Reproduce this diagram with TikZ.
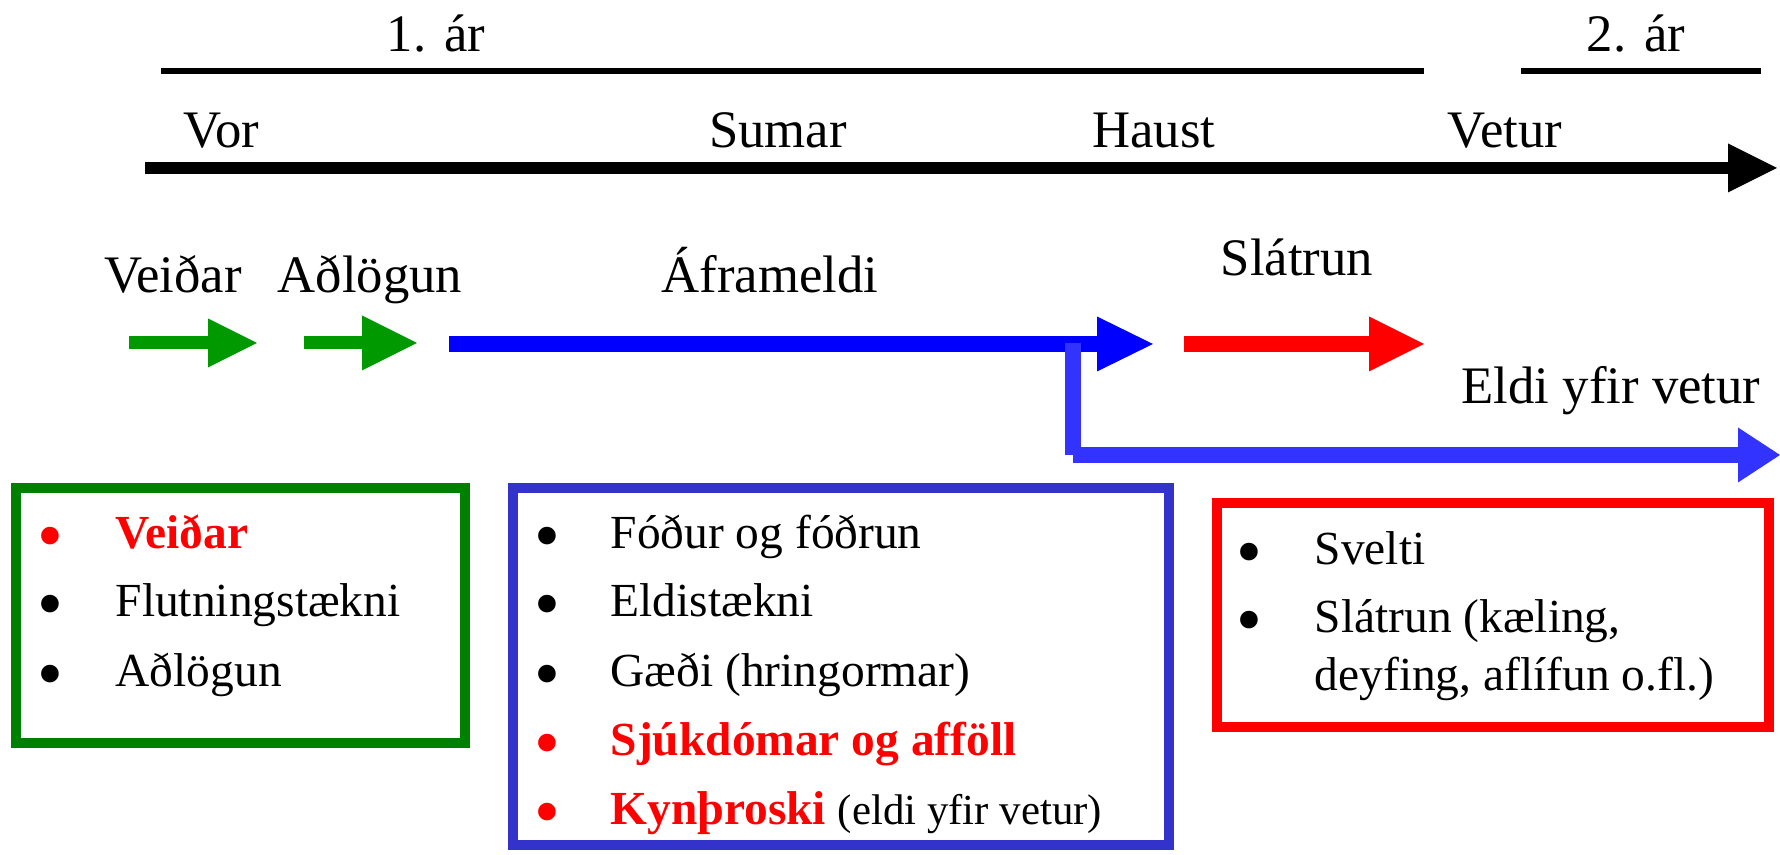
\documentclass[tikz,border=0pt]{standalone}
\usepackage{fontspec}
\setmainfont{Liberation Serif}
\usetikzlibrary{arrows.meta}

\definecolor{arrowgreen}{RGB}{0,153,0}
\definecolor{boxgreen}{RGB}{0,128,0}
\definecolor{boxblue}{RGB}{51,51,204}
\definecolor{winterblue}{RGB}{51,51,255}

\begin{document}
\begin{tikzpicture}[
    lbl/.style={inner sep=0pt, anchor=base, font=\fontsize{15pt}{18pt}\selectfont},
    itm/.style={inner sep=0pt, anchor=base west, font=\fontsize{13.5pt}{16pt}\selectfont},
    dot/.style={inner sep=0pt, anchor=base, yshift=-0.12cm, font=\fontsize{21pt}{24pt}\selectfont},
    hot/.style={red, font=\fontsize{13.5pt}{16pt}\selectfont\bfseries},
    frame/.style={line width=0.1cm},
    fat/.style={line width=#1},
    tip/.style={-{Triangle[length=#1, width=0.55cm, line width=0pt]}}
  ]
  \useasboundingbox (0, 0) rectangle (17.8, 8.55);

  % years
  \node[lbl] (ar1) at (4.36, 8.03) {1. ár};
  \node[lbl] (ar2) at (16.36, 8.03) {2. ár};
  \coordinate (y1s) at (1.61, 7.84);
  \coordinate (y1e) at (14.24, 7.84);
  \coordinate (y2s) at (15.21, 7.84);
  \coordinate (y2e) at (17.61, 7.84);
  \draw[fat=0.06cm] (y1s) -- (y1e);
  \draw[fat=0.06cm] (y2s) -- (y2e);

  % seasons
  \node[lbl, anchor=base west] (vor) at (1.83, 7.07) {Vor};
  \node[lbl] (sumar) at (7.78, 7.07) {Sumar};
  \node[lbl] (haust) at (11.54, 7.07) {Haust};
  \node[lbl] (vetur) at (15.05, 7.07) {Vetur};
  \coordinate (ts) at (1.45, 6.87);
  \coordinate (te) at (17.77, 6.87);
  \draw[fat=0.12cm, -{Triangle[length=0.49cm, width=0.49cm, line width=0pt]}] (ts) -- (te);

  % stages
  \node[lbl] (veidar) at (1.73, 5.62) {Veiðar};
  \node[lbl] (adlogun) at (3.70, 5.62) {Aðlögun};
  \node[lbl] (aframeldi) at (7.70, 5.62) {Áframeldi};
  \node[lbl] (slatrun) at (12.97, 5.79) {Slátrun};
  \node[lbl] (vetrareldi) at (16.11, 4.51) {Eldi yfir vetur};

  \coordinate (g1s) at (1.29, 5.12);
  \coordinate (g1e) at (2.57, 5.12);
  \coordinate (g2s) at (3.04, 5.12);
  \coordinate (g2e) at (4.17, 5.12);
  \coordinate (bs) at (4.49, 5.11);
  \coordinate (be) at (11.53, 5.11);
  \coordinate (rs) at (11.84, 5.11);
  \coordinate (re) at (14.24, 5.11);
  \coordinate (ws) at (10.73, 5.12);
  \coordinate (wk) at (10.73, 4.00);
  \coordinate (we) at (17.80, 4.00);

  \draw[arrowgreen, fat=0.13cm, -{Triangle[length=0.49cm, width=0.49cm, line width=0pt]}] (g1s) -- (g1e);
  \draw[arrowgreen, fat=0.13cm, tip=0.55cm] (g2s) -- (g2e);
  \draw[blue, fat=0.16cm, tip=0.56cm] (bs) -- (be);
  \draw[red, fat=0.16cm, tip=0.55cm] (rs) -- (re);
  \draw[winterblue, fat=0.16cm] (ws) -- (wk);
  \draw[winterblue, fat=0.16cm, tip=0.42cm] (wk) -- (we);

  % boxes
  \draw[boxgreen, frame] (0.16, 3.67) rectangle (4.65, 1.12);
  \draw[boxblue, frame] (5.13, 3.67) rectangle (11.69, 0.10);
  \draw[red, frame] (12.17, 3.52) rectangle (17.69, 1.28);

  \node[dot, red] (gd1) at (0.50, 3.06) {•};
  \node[dot] (gd2) at (0.50, 2.38) {•};
  \node[dot] (gd3) at (0.50, 1.68) {•};
  \node[itm, hot] (gi1) at (1.15, 3.06) {Veiðar};
  \node[itm] (gi2) at (1.15, 2.38) {Flutningstækni};
  \node[itm] (gi3) at (1.15, 1.68) {Aðlögun};

  \node[dot] (bd1) at (5.47, 3.06) {•};
  \node[dot] (bd2) at (5.47, 2.38) {•};
  \node[dot] (bd3) at (5.47, 1.68) {•};
  \node[dot, red] (bd4) at (5.47, 0.99) {•};
  \node[dot, red] (bd5) at (5.47, 0.30) {•};
  \node[itm] (bi1) at (6.10, 3.06) {Fóður og fóðrun};
  \node[itm] (bi2) at (6.10, 2.38) {Eldistækni};
  \node[itm] (bi3) at (6.10, 1.68) {Gæði (hringormar)};
  \node[itm, hot] (bi4) at (6.10, 0.99) {Sjúkdómar og afföll};
  \node[itm] (bi5) at (6.10, 0.30) {{\color{red}\bfseries Kynþroski} {\fontsize{12.2pt}{14pt}\selectfont(eldi yfir vetur)}};

  \node[dot] (rd1) at (12.49, 2.90) {•};
  \node[dot] (rd2) at (12.49, 2.22) {•};
  \node[itm] (ri1) at (13.14, 2.90) {Svelti};
  \node[itm] (ri2) at (13.14, 2.22) {Slátrun (kæling,};
  \node[itm] (ri3) at (13.14, 1.64) {deyfing, aflífun o.fl.)};
\end{tikzpicture}
\end{document}
